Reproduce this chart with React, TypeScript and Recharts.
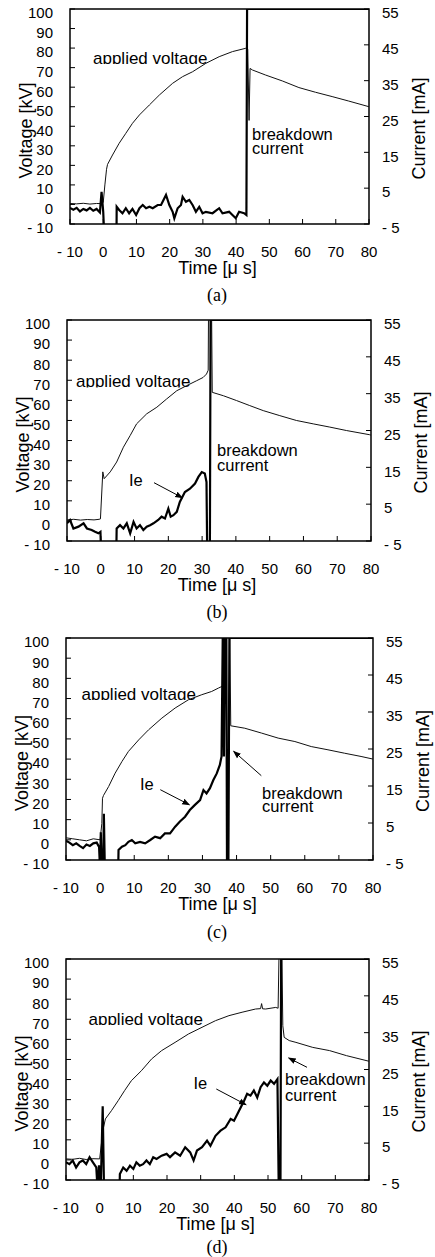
import { LineChart, Line, XAxis, YAxis, ReferenceArea } from "recharts";

const W = 435;
const FONT = 'Arial, "Liberation Sans", sans-serif';

const xTicks = [-10, 0, 10, 20, 30, 40, 50, 60, 70, 80];
const voltTicks = [-10, 0, 10, 20, 30, 40, 50, 60, 70, 80, 90, 100];
const curTicks = [-5, 5, 15, 25, 35, 45, 55];

// (a) applied voltage [kV] and current [mA]
const timeVoltA = [-10, -8, -6, -4, -2, -0.5, 0, 0.5, 1, 1.3, 2.8, 4.8, 6.8, 8.8, 10.9, 13.9, 16.9, 20.9, 23.9, 26.9, 30.9, 34.9, 38.9, 42.9, 43.5, 43.9, 44.2, 44.9, 48.9, 53.9, 58.9, 63.9, 68.9, 73.9, 80];
const voltA = [0.5, 0.3, 0.6, 0.2, 0.5, 0.4, 1, 10, 18, 20.5, 25.3, 31.3, 36.4, 41.5, 45.8, 50.9, 56, 62, 65.4, 67.9, 72.2, 75.6, 78.2, 79.9, 79.5, 43, 69.6, 68.8, 66.2, 63.2, 59.8, 57.4, 55.2, 52.9, 50];
const timeCurA = [-10, -9, -8, -7, -6, -5, -4, -3, -2, -1, -0.5, 0, 0.3, 4.0, 4.05, 4.8, 5.8, 6.8, 7.8, 8.8, 9.9, 10.9, 11.9, 12.9, 13.9, 14.9, 16.4, 17.4, 18.9, 19.9, 20.9, 21.4, 22.4, 23.4, 23.9, 24.9, 25.9, 26.9, 27.9, 28.9, 29.9, 30.9, 32.9, 34.9, 35.9, 37.9, 38.9, 39.9, 40.9, 42.4, 43.1, 43.3, 80];
const curA = [-0.5, -1, -0.5, -1.5, -0.8, -1.2, -0.5, -1.3, -0.8, -1.8, 4, -1.6, -8, -8, -0.2, -1.1, -2, -0.6, -2, -0.8, -2.5, -0.6, 0.3, -0.6, -0.2, -0.6, 0.3, 0.3, 3.1, 0.3, -1.6, -3.4, -0.6, 0.3, 2.6, 1.2, 1.7, 0.3, -1.6, -0.2, -2, -1.6, -2, -0.6, -2, -1.6, -2.5, -3.4, -1.6, -2, -2.5, 55, 55];

// (b)
const timeVoltB = [-10, -8, -6, -4, -2, -0.5, -0.1, 0.6, 1.0, 2.8, 4.7, 6.7, 8.7, 10.6, 13.6, 16.6, 19.5, 22.5, 25.4, 28.4, 30.3, 31.3, 31.8, 31.9, 32.8, 33.0, 36.3, 40.2, 44.1, 48.1, 53, 57.9, 62.9, 67.8, 72.7, 79.6, 80];
const voltB = [0.5, 0.8, 0.4, 0.7, 0.5, 0.8, 1, 24.4, 21, 24.4, 29.3, 36.7, 42.5, 48.3, 53.3, 56.6, 60.7, 64.8, 67.3, 69.8, 71.4, 73.1, 75, 105, 105, 64, 62.3, 59.9, 57.4, 54.9, 52.4, 50, 48.3, 46.7, 45, 42.9, 42.7];
const timeCurB = [-10, -9.1, -8.1, -6.6, -5.1, -4.1, -2.7, -1.7, -0.7, -0.1, 0.1, 4.6, 4.7, 5.7, 6.7, 7.7, 8.7, 9.7, 10.6, 11.6, 12.6, 13.6, 14.6, 15.6, 17, 18, 19, 20, 20.7, 21.5, 22.5, 23.4, 24.9, 26.4, 27.9, 28.9, 29.9, 30.8, 31.3, 31.5, 32.3, 32.5, 80];
const curB = [-0.2, 0.7, -1.6, -1.1, -0.2, -1.6, -2, -2.5, -2.9, -2.5, -8, -8, -1.6, -0.7, -1.6, -0.2, -2.9, 0.2, -1.6, -0.7, -2, -1.1, -0.7, -0.2, 0.7, 1.6, 1.1, 3.8, 1.6, 2, 2.9, 5.6, 8.3, 9.2, 10.6, 12.4, 13.7, 13.3, 11, -8, -8, 55, 55];

// (c)
const timeVoltC = [-10, -8, -6, -4, -2, 0, 0.5, 0.7, 1.0, 2.5, 4.4, 6.4, 8.3, 11.3, 14.2, 18.1, 22, 25.9, 29.8, 32.7, 34.7, 35.7, 36.2, 36.4, 38.0, 38.3, 42.4, 47.3, 52.2, 57.1, 61.9, 66.8, 71.7, 76.5, 80];
const voltC = [1, 0.5, 0, -0.5, 0.5, 0, 8, 20.6, 22, 26.4, 33, 38.8, 43.8, 49.5, 54.5, 60.3, 65.3, 69.4, 71.9, 73.5, 75.2, 76, 76.2, 105, 105, 56.5, 55.3, 52.9, 50.4, 48.7, 46.2, 44.6, 42.9, 41.3, 40];
const timeCurC = [-10, -9, -8, -7, -6, -5, -4, -3, -2, -1, -0.3, 0, 0.2, 0.5, 0.9, 1.1, 1.4, 5.3, 5.4, 6.4, 7.4, 8.3, 9.3, 10.3, 11.7, 13.2, 14.7, 16.1, 17.6, 19, 20.5, 22, 23.4, 24.9, 26.3, 27.8, 29.3, 30.3, 31.2, 32.2, 33.2, 34.2, 35.1, 35.6, 36.0, 36.3, 36.6, 37.0, 37.2, 37.6, 37.9, 80];
const curC = [0.2, -0.3, -1, -0.5, -1.2, -1.8, -0.8, -1.2, -0.5, -0.3, -1.5, -8, 2.5, -8, -8, 7.5, -8, -8, -2.3, -1.4, -1, -0.1, 0.4, -0.5, -0.1, -0.5, 0.4, 1.3, 0.9, 2.2, 2.2, 4, 5.4, 6.7, 8.5, 9.9, 11.2, 13.9, 13, 14.4, 16.6, 18.4, 20.7, 23, 60, 23, 60, 60, -8, -8, 55, 55];

// (d)
const timeVoltD = [-10, -8, -6, -4, -2, 0, 1.0, 1.7, 3.5, 5.5, 7.4, 9.4, 12.4, 15.4, 18.4, 22.4, 26.4, 30.4, 34.4, 38.4, 42.3, 46.3, 47.8, 48.1, 48.4, 49.3, 52.3, 53.0, 53.3, 54.1, 54.4, 54.8, 56.3, 58.3, 63.3, 68.3, 73.3, 80];
const voltD = [0.5, 0.3, 0.8, 0.2, 0.6, 0.5, 15, 20.4, 24.5, 29.5, 34.5, 39.4, 44.4, 50.2, 54.4, 58.5, 62.7, 66, 69.3, 71.8, 73.5, 75.1, 75.3, 77.8, 75.2, 75.1, 75.9, 75.5, 105, 105, 66.8, 61, 59.4, 58.5, 56, 54.4, 51.9, 49.1];
const timeCurD = [-10, -9, -8, -7, -6, -5, -4, -3, -2, -1, -0.6, -0.2, 0.3, 0.9, 1.3, 5.9, 6.0, 7, 8, 9, 10, 10.9, 11.9, 12.9, 13.9, 14.9, 15.9, 16.9, 18.4, 19.9, 20.9, 22.4, 23.9, 25.4, 26.9, 27.9, 28.9, 30.4, 31.9, 32.9, 34.4, 35.9, 37.4, 38.9, 39.9, 41.4, 42.9, 43.8, 44.8, 45.8, 46.8, 47.8, 48.8, 49.8, 50.8, 51.8, 52.8, 53.2, 53.7, 53.9, 80];
const curD = [-0.2, -0.7, 0.3, -1.6, -0.2, 0.3, -0.7, 1.2, -0.2, -1.6, -8, -1, -8, 15, -8, -8, -3.4, -1.6, -2.5, -1.1, -2, -0.2, -1.1, -0.7, 0.3, -0.7, 1.2, 0.7, 1.6, 2.1, 1.2, 2.5, 1.6, 3.9, 2.5, 0.3, 3, 3.9, 5.7, 4.3, 7, 8.4, 9.3, 11.6, 11.1, 13.8, 16.5, 18.4, 17.9, 19.3, 17.4, 20.2, 21.5, 20.6, 22, 21.1, 22.4, -8, -8, 55, 55];

const pair = (t: number[], v: number[]) => t.map((x, i) => ({ t: x, y: v[i] }));
const fmt = (v: number) => (v < 0 ? `- ${-v}` : `${v}`);

type Box = { left: number; right: number; top: number; bottom: number };
type Arrow = [number, number, number, number];

type PanelDef = {
  box: Box;
  volt: { t: number; y: number }[];
  cur: { t: number; y: number }[];
  caption: string;
  captionY: number;
  applied: [number, number];
  bd: [number, number, number];
  ie?: [number, number];
  arrows: Arrow[];
};

const panels: PanelDef[] = [
  {
    box: { left: 70, right: 369, top: 9, bottom: 224 },
    volt: pair(timeVoltA, voltA),
    cur: pair(timeCurA, curA),
    caption: "(a)",
    captionY: 295,
    applied: [93, 63.5],
    bd: [252, 140, 154],
    arrows: [],
  },
  {
    box: { left: 67, right: 371, top: 320, bottom: 541 },
    volt: pair(timeVoltB, voltB),
    cur: pair(timeCurB, curB),
    caption: "(b)",
    captionY: 611.5,
    applied: [76, 387],
    bd: [217, 456, 471],
    ie: [129, 485.5],
    arrows: [[154, 482.7, 182.3, 497.7]],
  },
  {
    box: { left: 66, right: 373, top: 638, bottom: 860 },
    volt: pair(timeVoltC, voltC),
    cur: pair(timeCurC, curC),
    caption: "(c)",
    captionY: 931.5,
    applied: [81.5, 699.5],
    bd: [262, 798.5, 812],
    ie: [140, 789.5],
    arrows: [
      [160.3, 789.7, 189.3, 804.7],
      [261.3, 775.7, 233.7, 751.3],
    ],
  },
  {
    box: { left: 66, right: 369, top: 959, bottom: 1180 },
    volt: pair(timeVoltD, voltD),
    cur: pair(timeCurD, curD),
    caption: "(d)",
    captionY: 1246.5,
    applied: [88.5, 1024.5],
    bd: [285, 1084.5, 1100.5],
    ie: [193.5, 1089],
    arrows: [
      [216.3, 1089, 246, 1104.7],
      [307, 1067.3, 288.7, 1058],
    ],
  },
];

const tickStyle = { fontSize: 15, fill: "#000", fontFamily: FONT };

function Panel({ p }: { p: PanelDef }) {
  const padTop = 8;
  const h = p.box.bottom - p.box.top;
  return (
    <div style={{ position: "absolute", left: 0, top: p.box.top - padTop }}>
      <LineChart
        width={W}
        height={h + padTop + 60}
        margin={{ top: padTop, right: 0, bottom: 0, left: 0 }}
      >
        <XAxis
          type="number"
          dataKey="t"
          domain={[-10, 80]}
          ticks={xTicks}
          interval={0}
          allowDataOverflow
          axisLine={false}
          tickLine={{ stroke: "#000" }}
          tickSize={-5}
          tickMargin={27}
          tick={tickStyle}
          tickFormatter={fmt}
          height={60}
        />
        <YAxis
          yAxisId="v"
          orientation="left"
          type="number"
          domain={[-10, 100]}
          ticks={voltTicks}
          interval={0}
          allowDataOverflow
          axisLine={false}
          tickLine={{ stroke: "#000" }}
          tickSize={-5}
          tickMargin={22}
          tick={{ ...tickStyle, dy: 4 }}
          tickFormatter={fmt}
          width={p.box.left}
        />
        <YAxis
          yAxisId="i"
          orientation="right"
          type="number"
          domain={[-5, 55]}
          ticks={curTicks}
          interval={0}
          allowDataOverflow
          axisLine={false}
          tickLine={{ stroke: "#000" }}
          tickSize={-5}
          tickMargin={18}
          tick={{ ...tickStyle, dy: 4 }}
          tickFormatter={fmt}
          width={W - p.box.right}
        />
        <ReferenceArea
          yAxisId="v"
          x1={-10}
          x2={80}
          y1={-10}
          y2={100}
          fill="none"
          stroke="#000"
          strokeWidth={1.5}
        />
        <Line
          yAxisId="v"
          data={p.volt}
          dataKey="y"
          type="linear"
          stroke="#111"
          strokeWidth={1}
          dot={false}
          isAnimationActive={false}
        />
        <Line
          yAxisId="i"
          data={p.cur}
          dataKey="y"
          type="linear"
          stroke="#000"
          strokeWidth={2.2}
          dot={false}
          isAnimationActive={false}
        />
      </LineChart>
    </div>
  );
}

function Notes() {
  return (
    <svg
      width={W}
      height={1257}
      style={{ position: "absolute", left: 0, top: 0, pointerEvents: "none" }}
      fontFamily={FONT}
    >
      <defs>
        <marker
          id="ah"
          markerWidth="8"
          markerHeight="8"
          refX="7"
          refY="4"
          orient="auto"
          markerUnits="userSpaceOnUse"
        >
          <path d="M0,1 L8,4 L0,7 z" fill="#000" />
        </marker>
        {panels.map((p, i) => (
          <clipPath id={`ap${i}`} key={`ap${i}`}>
            <rect x={0} y={p.applied[1] - 30} width={W} height={30.5} />
          </clipPath>
        ))}
        {panels.map((p, i) =>
          p.ie ? (
            <clipPath id={`ie${i}`} key={`ie${i}`}>
              <rect x={0} y={p.ie[1] - 30} width={W} height={30.5} />
            </clipPath>
          ) : null
        )}
      </defs>
      {panels.map((p, i) => {
        const cy = (p.box.top + p.box.bottom) / 2;
        const cx = (p.box.left + p.box.right) / 2;
        const vx = p.box.left - 44;
        const vy = cy + 14;
        const ix = p.box.right + 50;
        const iy = cy + 12;
        return (
          <g key={i} fill="#000">
            <text
              x={vx}
              y={vy}
              fontSize={18}
              textAnchor="middle"
              dominantBaseline="central"
              transform={`rotate(-90, ${vx}, ${vy})`}
            >
              Voltage [kV]
            </text>
            <text
              x={ix}
              y={iy}
              fontSize={18}
              textAnchor="middle"
              dominantBaseline="central"
              transform={`rotate(-90, ${ix}, ${iy})`}
            >
              Current [mA]
            </text>
            <text
              x={cx - 2}
              y={p.box.bottom + 43.5}
              fontSize={18}
              textAnchor="middle"
              dominantBaseline="central"
            >
              Time [μ s]
            </text>
            <text
              x={217}
              y={p.captionY}
              fontSize={18}
              textAnchor="middle"
              dominantBaseline="central"
              fontFamily='"Times New Roman", "Liberation Serif", serif'
            >
              {p.caption}
            </text>
            <text x={p.applied[0]} y={p.applied[1]} fontSize={17} clipPath={`url(#ap${i})`}>
              applied voltage
            </text>
            <text x={p.bd[0]} y={p.bd[1]} fontSize={16.5}>
              breakdown
            </text>
            <text x={p.bd[0]} y={p.bd[2]} fontSize={16.5}>
              current
            </text>
            {p.ie ? (
              <text x={p.ie[0]} y={p.ie[1]} fontSize={16.5} clipPath={`url(#ie${i})`}>
                Ie
              </text>
            ) : null}
            {p.arrows.map((a, k) => (
              <line
                key={k}
                x1={a[0]}
                y1={a[1]}
                x2={a[2]}
                y2={a[3]}
                stroke="#000"
                strokeWidth={1}
                markerEnd="url(#ah)"
              />
            ))}
          </g>
        );
      })}
    </svg>
  );
}

export default function App() {
  return (
    <div style={{ position: "absolute", left: 0, top: 0, width: W, height: 1257 }}>
      {panels.map((p, i) => (
        <Panel key={i} p={p} />
      ))}
      <Notes />
    </div>
  );
}
